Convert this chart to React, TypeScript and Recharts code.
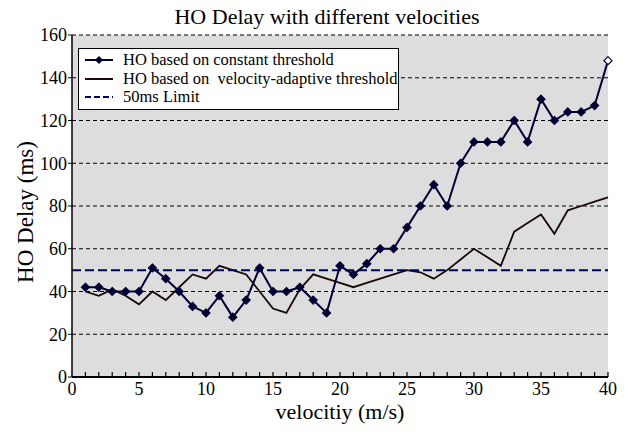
import { LineChart, Line, XAxis, YAxis, CartesianGrid, ReferenceLine } from 'recharts';

const velocity = [
  1, 2, 3, 4, 5, 6, 7, 8, 9, 10, 11, 12, 13, 14, 15, 16, 17, 18, 19, 20,
  21, 22, 23, 24, 25, 26, 27, 28, 29, 30, 31, 32, 33, 34, 35, 36, 37, 38, 39, 40,
];

// HO based on constant threshold
const constantThreshold = [
  42, 42, 40, 40, 40, 51, 46, 40, 33, 30, 38, 28, 36, 51, 40, 40, 42, 36, 30, 52,
  48, 53, 60, 60, 70, 80, 90, 80, 100, 110, 110, 110, 120, 110, 130, 120, 124, 124, 127, 148,
];

// HO based on velocity-adaptive threshold
const adaptiveThreshold = [
  40, 38, 41, 38, 34, 40, 36, 42, 48, 46, 52, 50, 48, 40, 32, 30, 41, 48, 46, 44,
  42, 44, 46, 48, 50, 49, 46, 50, 55, 60, 56, 52, 68, 72, 76, 67, 78, 80, 82, 84,
];

const delayLimit = 50;

const xTicks = Array.from({ length: 41 }, (_, i) => i);
const yTicks = [0, 20, 40, 60, 80, 100, 120, 140, 160];

const seriesNames = [
  'HO based on constant threshold',
  'HO based on  velocity-adaptive threshold',
  '50ms Limit',
];

const font = '"Liberation Serif", "Times New Roman", serif';
const navy = '#000033';

const chartData = velocity.map((v, i) => ({
  v,
  constant: constantThreshold[i],
  adaptive: adaptiveThreshold[i],
}));

const Diamond = (props: any) => {
  const { cx, cy, index } = props;
  if (cx == null || cy == null) return <g />;
  const r = 4;
  const hollow = index === velocity.length - 1;
  return (
    <path
      d={`M${cx},${cy - r}L${cx + r},${cy}L${cx},${cy + r}L${cx - r},${cy}Z`}
      fill={hollow ? '#fff' : navy}
      stroke={navy}
      strokeWidth={1.2}
    />
  );
};

// minor ticks point up into the plot, labels every 5 m/s
const VelocityTick = (props: any) => {
  const { x, y, payload } = props;
  return (
    <g>
      {payload.value > 0 && <line x1={x} y1={y} x2={x} y2={y - 5} stroke="#000" strokeWidth={1.2} />}
      {payload.value % 5 === 0 && (
        <text x={x} y={y + 18} textAnchor="middle" fill="#000" style={{ fontFamily: font, fontSize: 18 }}>
          {payload.value}
        </text>
      )}
    </g>
  );
};

function LegendBox() {
  const row = { display: 'flex', alignItems: 'center', height: 18.5 };
  return (
    <div
      style={{
        position: 'absolute',
        left: 78,
        top: 48,
        width: 321,
        height: 62,
        boxSizing: 'border-box',
        border: '1px solid #000',
        background: '#fff',
        paddingTop: 2,
        fontFamily: font,
        fontSize: 16.5,
        whiteSpace: 'pre',
      }}
    >
      <div style={row}>
        <svg width={44} height={12} style={{ flex: 'none' }}>
          <line x1={6} y1={6} x2={34} y2={6} stroke={navy} strokeWidth={2} />
          <path d="M20,2L24,6L20,10L16,6Z" fill={navy} />
        </svg>
        <span>{seriesNames[0]}</span>
      </div>
      <div style={row}>
        <svg width={44} height={12} style={{ flex: 'none' }}>
          <line x1={6} y1={6} x2={34} y2={6} stroke="#1a0808" strokeWidth={2} />
        </svg>
        <span>{seriesNames[1]}</span>
      </div>
      <div style={row}>
        <svg width={44} height={12} style={{ flex: 'none' }}>
          <line x1={6} y1={6} x2={34} y2={6} stroke="#000066" strokeWidth={2} strokeDasharray="6 3" />
        </svg>
        <span>{seriesNames[2]}</span>
      </div>
    </div>
  );
}

export default function App() {
  return (
    <div
      style={{
        position: 'absolute',
        left: 0,
        top: 0,
        width: 632,
        height: 432,
        background: '#fff',
        fontFamily: font,
      }}
    >
      <div
        style={{
          position: 'absolute',
          left: 0,
          top: 4,
          width: 654,
          textAlign: 'center',
          fontSize: 22,
          lineHeight: '26px',
        }}
      >
        HO Delay with different velocities
      </div>
      <LineChart
        width={632}
        height={432}
        data={chartData}
        margin={{ top: 35, right: 24, left: 0, bottom: 15 }}
        style={{ fontFamily: font }}
      >
        <CartesianGrid
          vertical={false}
          fill="#dddddd"
          fillOpacity={1}
          stroke="#000"
          strokeDasharray="4 3"
        />
        <XAxis
          type="number"
          dataKey="v"
          domain={[0, 40]}
          ticks={xTicks}
          interval={0}
          height={40}
          tickSize={0}
          tickMargin={0}
          tick={<VelocityTick />}
          axisLine={{ stroke: '#000', strokeWidth: 2 }}
          tickLine={false}
          label={{
            content: (p: any) => (
              <text
                x={p.viewBox.x + p.viewBox.width / 2}
                y={p.viewBox.y + 42}
                textAnchor="middle"
                fill="#000"
                style={{ fontFamily: font, fontSize: 22 }}
              >
                velocitiy (m/s)
              </text>
            ),
          }}
        />
        <YAxis
          type="number"
          domain={[0, 160]}
          ticks={yTicks}
          interval={0}
          width={72}
          tickSize={4}
          tickMargin={1}
          tick={{ fill: '#000', style: { fontFamily: font, fontSize: 18 } }}
          axisLine={{ stroke: '#000', strokeWidth: 1.5 }}
          tickLine={{ stroke: '#000' }}
          label={{
            content: (p: any) => {
              const cy = p.viewBox.y + p.viewBox.height / 2 + 6;
              return (
                <text
                  x={25}
                  y={cy}
                  transform={`rotate(-90 25 ${cy})`}
                  textAnchor="middle"
                  dominantBaseline="central"
                  fill="#000"
                  style={{ fontFamily: font, fontSize: 23 }}
                >
                  HO Delay (ms)
                </text>
              );
            },
          }}
        />
        <Line
          type="linear"
          dataKey="adaptive"
          stroke="#1a0808"
          strokeWidth={1.8}
          dot={false}
          isAnimationActive={false}
        />
        <ReferenceLine y={delayLimit} stroke="#000066" strokeWidth={2} strokeDasharray="9 4" />
        <Line
          type="linear"
          dataKey="constant"
          stroke={navy}
          strokeWidth={2}
          dot={<Diamond />}
          isAnimationActive={false}
        />
      </LineChart>
      <LegendBox />
    </div>
  );
}
